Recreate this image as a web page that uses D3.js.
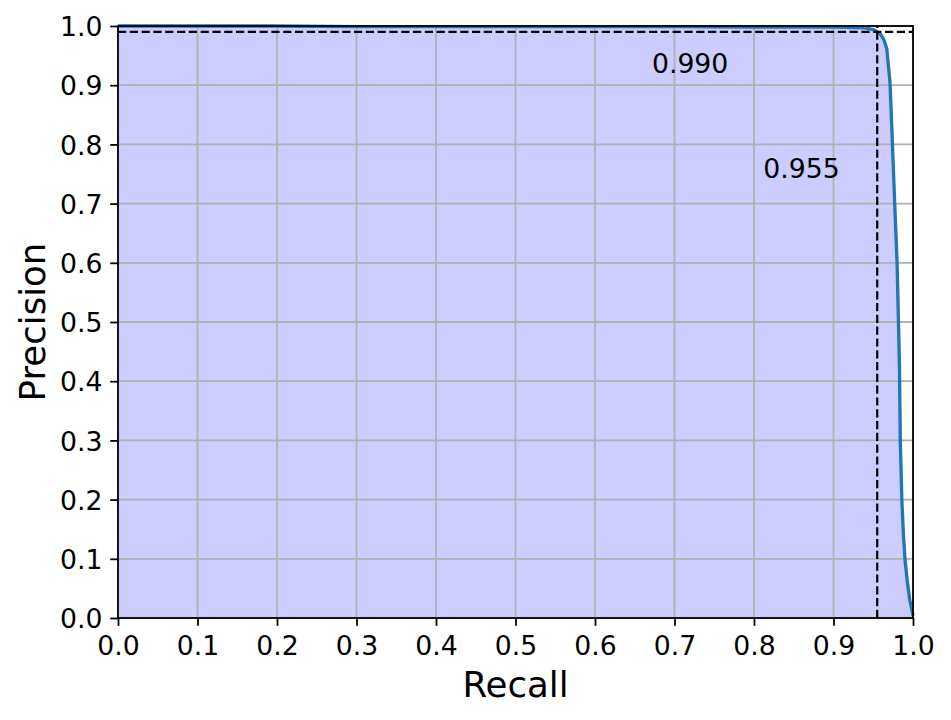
<!DOCTYPE html>
<html>
<head>
<meta charset="utf-8">
<script src="https://cdn.jsdelivr.net/npm/d3@7"></script>
<style>
  html, body { margin: 0; padding: 0; background: #fff; }
  svg text { font-family: "DejaVu Sans", sans-serif; fill: #000; }
</style>
</head>
<body>
<svg id="chart" width="951" height="720"></svg>
<script>
// ---- data ----
const recall = [0.0, 0.1, 0.2, 0.3, 0.4, 0.5, 0.6, 0.7, 0.8, 0.9, 0.94, 0.950, 0.958, 0.963, 0.967, 0.971, 0.973, 0.975, 0.977, 0.980, 0.983, 0.984, 0.986, 0.988, 0.990, 0.993, 0.996, 0.999, 1.0];
const precision = [1.0, 1.0, 1.0, 0.999, 0.999, 0.999, 0.999, 0.999, 0.998, 0.998, 0.997, 0.994, 0.988, 0.978, 0.962, 0.906, 0.841, 0.770, 0.700, 0.599, 0.425, 0.301, 0.199, 0.140, 0.098, 0.060, 0.030, 0.011, 0.004];
const xTicks = [0.0, 0.1, 0.2, 0.3, 0.4, 0.5, 0.6, 0.7, 0.8, 0.9, 1.0];
const yTicks = [0.0, 0.1, 0.2, 0.3, 0.4, 0.5, 0.6, 0.7, 0.8, 0.9, 1.0];
const thresholdPrecision = 0.990;
const thresholdRecall = 0.955;
const annotations = [
  { x: 0.6716, y: 0.9206, text: "0.990" },
  { x: 0.8116, y: 0.7428, text: "0.955" }
];
const xLabel = "Recall";
const yLabel = "Precision";

// ---- layout ----
const pLeft = 118, pRight = 913, pTop = 26, pBottom = 618;
const svg = d3.select("#chart");
const x = d3.scaleLinear().domain([0, 1]).range([pLeft, pRight]);
const y = d3.scaleLinear().domain([0, 1]).range([pBottom, pTop]);
const pts = recall.map((r, i) => [r, precision[i]]);
const tickFont = 26.7, labelFont = 35.6, lw = 1.78, tickLen = 7.8;

// fill under curve
svg.append("path")
  .datum(pts)
  .attr("d", d3.area().x(d => x(d[0])).y0(y(0)).y1(d => y(d[1])))
  .attr("fill", "#ccccff");

// grid
const grid = svg.append("g");
grid.selectAll("line.gx").data(xTicks).join("line")
  .attr("class", "gx")
  .attr("x1", d => x(d)).attr("x2", d => x(d))
  .attr("y1", pTop).attr("y2", pBottom)
  .attr("stroke", "#b0b0b0").attr("stroke-width", lw);
grid.selectAll("line.gy").data(yTicks).join("line")
  .attr("class", "gy")
  .attr("x1", pLeft).attr("x2", pRight)
  .attr("y1", d => y(d)).attr("y2", d => y(d))
  .attr("stroke", "#b0b0b0").attr("stroke-width", lw);

// curve
svg.append("path")
  .datum(pts)
  .attr("d", d3.line().x(d => x(d[0])).y(d => y(d[1])))
  .attr("fill", "none")
  .attr("stroke", "#1f77b4")
  .attr("stroke-width", 3.33)
  .attr("stroke-linejoin", "round");

// dashed threshold lines
svg.append("line")
  .attr("x1", x(0)).attr("x2", x(1))
  .attr("y1", y(thresholdPrecision)).attr("y2", y(thresholdPrecision))
  .attr("stroke", "#000").attr("stroke-width", 2.2)
  .attr("stroke-dasharray", "8.2,3.6");
svg.append("line")
  .attr("x1", x(thresholdRecall)).attr("x2", x(thresholdRecall))
  .attr("y1", y(0)).attr("y2", y(1))
  .attr("stroke", "#000").attr("stroke-width", 2.2)
  .attr("stroke-dasharray", "8.2,3.6");

// annotations
svg.selectAll("text.ann").data(annotations).join("text")
  .attr("class", "ann")
  .attr("x", d => x(d.x)).attr("y", d => y(d.y))
  .attr("font-size", tickFont)
  .text(d => d.text);

// spines
svg.append("rect")
  .attr("x", pLeft).attr("y", pTop)
  .attr("width", pRight - pLeft).attr("height", pBottom - pTop)
  .attr("fill", "none").attr("stroke", "#000").attr("stroke-width", lw);

// axes
const fmt = d3.format(".1f");
const xAxis = svg.append("g")
  .attr("transform", `translate(0,${pBottom})`)
  .call(d3.axisBottom(x).tickValues(xTicks).tickFormat(fmt).tickSize(tickLen).tickPadding(tickLen));
const yAxis = svg.append("g")
  .attr("transform", `translate(${pLeft},0)`)
  .call(d3.axisLeft(y).tickValues(yTicks).tickFormat(fmt).tickSize(tickLen).tickPadding(tickLen));
[xAxis, yAxis].forEach(a => {
  a.select(".domain").remove();
  a.selectAll(".tick line").attr("stroke", "#000").attr("stroke-width", lw);
  a.selectAll(".tick text").attr("font-size", tickFont).attr("font-family", "DejaVu Sans, sans-serif").attr("fill", "#000");
});
xAxis.selectAll(".tick text").attr("dy", null).attr("y", 36.5);
yAxis.selectAll(".tick text").attr("dy", null).attr("y", 9.7).attr("x", -15.6);

// axis labels
svg.append("text")
  .attr("x", (pLeft + pRight) / 2).attr("y", 697)
  .attr("text-anchor", "middle").attr("font-size", labelFont)
  .text(xLabel);
svg.append("text")
  .attr("transform", `translate(45,${(pTop + pBottom) / 2}) rotate(-90)`)
  .attr("text-anchor", "middle").attr("font-size", labelFont)
  .text(yLabel);
</script>
</body>
</html>
